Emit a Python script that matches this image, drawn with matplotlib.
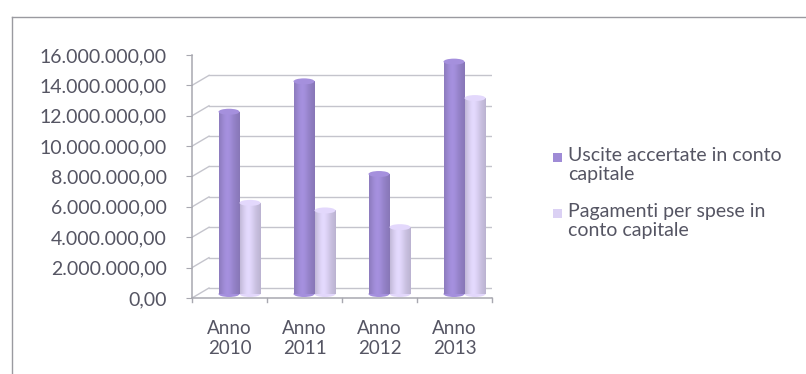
import numpy as np
import matplotlib
matplotlib.use("Agg")
import matplotlib.pyplot as plt
import matplotlib.transforms as mtransforms
from matplotlib.patches import Rectangle, Ellipse
from matplotlib.lines import Line2D
from matplotlib.colors import to_rgb

# ---- data -------------------------------------------------------------
categories = ["Anno\n2010", "Anno\n2011", "Anno\n2012", "Anno\n2013"]
uscite = [12.0e6, 14.0e6, 7.9e6, 15.3e6]
pagamenti = [6.0e6, 5.5e6, 4.4e6, 12.9e6]
series_names = ["Uscite accertate in conto\ncapitale",
                "Pagamenti per spese in\nconto capitale"]
y_ticks = [0, 2e6, 4e6, 6e6, 8e6, 10e6, 12e6, 14e6, 16e6]

# ---- style ------------------------------------------------------------
W, H, DPI = 806, 374, 100
dark = "#9f8bd6"
light = "#dbd1f4"
grid_c = "#c4c4cc"
axis_c = "#a8a8b0"
text_c = "#555563"
plt.rcParams["font.family"] = ["Lato", "DejaVu Sans"]

fig = plt.figure(figsize=(W / DPI, H / DPI), dpi=DPI)
fig.patch.set_facecolor("white")

# plot region (front plane) in pixels
x0_px, x1_px = 192, 492
y0_px, y1_px = 298, 55
ax = fig.add_axes([x0_px / W, 1 - y0_px / H, (x1_px - x0_px) / W, (y0_px - y1_px) / H])
ax.set_xlim(-0.5, len(categories) - 0.5)
ax.set_ylim(0, 16e6)
for s in ax.spines.values():
    s.set_visible(False)
ax.patch.set_alpha(0)

# depth offsets (pixels): back wall and mid-depth plane of the bars
back = mtransforms.offset_copy(ax.transData, fig=fig, x=17, y=10, units="dots")
mid = mtransforms.offset_copy(ax.transData, fig=fig, x=10, y=4, units="dots")
inv = ax.transData.inverted()


def join(pt, front_tr, back_tr, **kw):
    """Line from a point on the front plane to the same point on the back wall."""
    a = inv.transform(front_tr.transform(pt))
    b = inv.transform(back_tr.transform(pt))
    ax.plot([a[0], b[0]], [a[1], b[1]], **kw)


xl, xr = -0.5, len(categories) - 0.5
# back wall gridlines and the diagonals joining them to the front axis
for v in y_ticks:
    ax.plot([xl, xr], [v, v], color=grid_c, lw=1.0, transform=back, zorder=1)
    join((xl, v), ax.transData, back, color=grid_c, lw=1.0, zorder=1)
# right floor edge
join((xr, 0), ax.transData, back, color=grid_c, lw=1.0, zorder=1)
# front axes lines
ax.plot([xl, xr], [0, 0], color=axis_c, lw=1.1, zorder=2, clip_on=False)
ax.plot([xl, xl], [0, 16e6], color=axis_c, lw=1.1, zorder=2, clip_on=False)
# category boundary ticks on the front bottom edge
tick_len = 4 * 16e6 / (y0_px - y1_px)
for k in range(len(categories) + 1):
    xb = -0.5 + k
    ax.plot([xb, xb], [0, -tick_len], color=axis_c, lw=1.0, clip_on=False)

# y ticks
ax.set_yticks(y_ticks)
ax.set_yticklabels([f"{v:,.2f}".replace(",", "X").replace(".", ",").replace("X", ".")
                    for v in y_ticks])
ax.tick_params(axis="y", length=4, color=axis_c, labelsize=14, labelcolor=text_c, pad=14)
ax.set_xticks(range(len(categories)))
ax.set_xticklabels(categories, linespacing=1.2)
ax.tick_params(axis="x", length=0, labelsize=13.5, labelcolor=text_c, pad=16)


def shade(color, n=64):
    """Horizontal cylinder shading for a bar colour."""
    r, g, b = to_rgb(color)
    t = np.linspace(0, 1, n)
    f = 0.90 + 0.14 * np.exp(-((t - 0.40) / 0.30) ** 2)
    f = f - 0.05 * (t ** 6) - 0.04 * ((1 - t) ** 8)
    rgb = np.stack([np.clip(c * f, 0, 1) for c in (r, g, b)], axis=-1)
    return rgb[np.newaxis, :, :]


bw = 0.28
ell_h = 6 * 16e6 / (y0_px - y1_px)
xs = np.arange(len(categories))
for vals, col, off in ((uscite, dark, -bw / 2), (pagamenti, light, bw / 2)):
    bars = ax.bar(xs + off, vals, width=bw, color=col, transform=mid, zorder=3)
    for rect, v in zip(bars, vals):
        x_left = rect.get_x()
        img = ax.imshow(shade(col), extent=[x_left, x_left + bw, 0, v],
                        aspect="auto", transform=mid, zorder=3.5,
                        interpolation="bilinear")
        img.set_clip_path(rect)
        top = Ellipse((x_left + bw / 2, v), bw, ell_h, transform=mid,
                      facecolor=shade(col)[0, 22], edgecolor="none", zorder=4)
        ax.add_patch(top)
        bot = Ellipse((x_left + bw / 2, 0), bw, ell_h, transform=mid,
                      facecolor=shade(col)[0, 30], edgecolor="none", zorder=2.9)
        ax.add_patch(bot)
ax.set_xlim(-0.5, len(categories) - 0.5)
ax.set_ylim(0, 16e6)

# legend drawn at the right of the plot
leg_rows = [(157, series_names[0], dark), (213, series_names[1], light)]
for y_px, label, col in leg_rows:
    fig.patches.append(Rectangle((553 / W, 1 - (y_px + 5) / H), 9 / W, 9 / H,
                                 transform=fig.transFigure, facecolor=col,
                                 edgecolor="none"))
    fig.text(568 / W, 1 - (y_px - 10) / H, label, ha="left", va="top",
             fontsize=14, color=text_c, linespacing=1.15)

# outer frame
fig.lines.append(Line2D([12 / W, 12 / W], [0, 1 - 17 / H], transform=fig.transFigure,
                        color="#9a9aa0", lw=1.0))
fig.lines.append(Line2D([12 / W, 1], [1 - 17 / H, 1 - 17 / H], transform=fig.transFigure,
                        color="#9a9aa0", lw=1.0))

fig.savefig("out.png", dpi=DPI)
